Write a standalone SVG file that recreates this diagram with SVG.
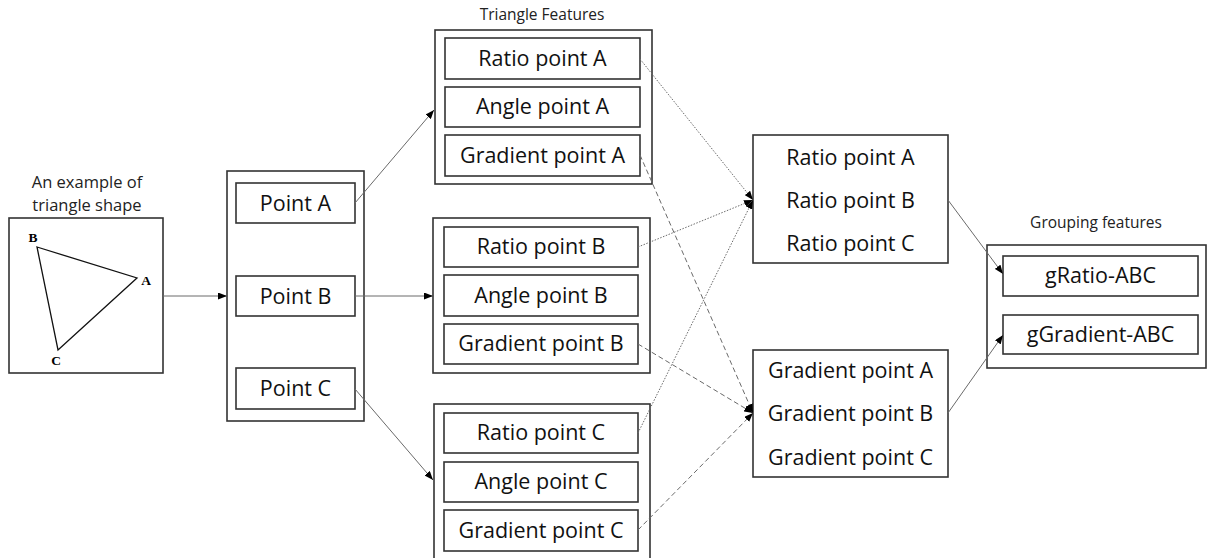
<svg xmlns="http://www.w3.org/2000/svg" width="1208" height="558" viewBox="0 0 1208 558">
<style>
.box{fill:#fff;stroke:#333;stroke-width:1.6}
.t{font-family:"Open Sans","Noto Sans",sans-serif;font-size:21.5px;fill:#111;text-anchor:middle}
.cap{font-family:"Open Sans","Noto Sans",sans-serif;font-size:15.5px;fill:#222;text-anchor:middle}
.lbl{font-family:"Liberation Serif",serif;font-size:13.5px;font-weight:bold;fill:#000;text-anchor:middle}
.c{fill:none;stroke:#6a6a6a;stroke-width:1}
.dot{stroke-dasharray:1.5,1.5}
.dash{stroke-dasharray:5,3}
</style>
<defs>
<marker id="ah" markerWidth="9" markerHeight="7" refX="9" refY="3.5" orient="auto" markerUnits="userSpaceOnUse">
<path d="M0,0 L9,3.5 L0,7 Z" fill="#000"/>
</marker>
</defs>

<g id="triangle-shape">
<text class="cap" x="87" y="188" style="font-size:16.5px">An example of</text>
<text class="cap" x="87" y="211" style="font-size:16.5px">triangle shape</text>
<rect class="box" x="9" y="218" width="154" height="155"/>
<polygon points="37,247 137,278 58,350" fill="none" stroke="#111" stroke-width="1.3"/>
<text class="lbl" x="33" y="242">B</text>
<text class="lbl" x="146" y="285">A</text>
<text class="lbl" x="56" y="365">C</text>
</g>

<g id="points">
<rect class="box" x="227" y="171" width="137" height="250"/>
<rect class="box" x="236" y="183" width="119" height="40"/>
<text class="t" x="295.5" y="211">Point A</text>
<rect class="box" x="236" y="276" width="119" height="40"/>
<text class="t" x="295.5" y="304">Point B</text>
<rect class="box" x="236" y="368" width="119" height="41"/>
<text class="t" x="295.5" y="396">Point C</text>
</g>

<g id="triangle-features-title">
<text class="cap" x="542" y="20">Triangle Features</text>
</g>

<g id="features-a">
<rect class="box" x="435" y="30" width="217" height="154"/>
<rect class="box" x="445" y="38" width="195" height="41"/>
<text class="t" x="542.5" y="66">Ratio point A</text>
<rect class="box" x="445" y="87" width="195" height="40"/>
<text class="t" x="542.5" y="114">Angle point A</text>
<rect class="box" x="445" y="135" width="195" height="41"/>
<text class="t" x="542.5" y="163">Gradient point A</text>
</g>

<g id="features-b">
<rect class="box" x="433" y="218" width="217" height="155"/>
<rect class="box" x="444" y="227" width="194" height="40"/>
<text class="t" x="541" y="254">Ratio point B</text>
<rect class="box" x="444" y="275" width="194" height="41"/>
<text class="t" x="541" y="303">Angle point B</text>
<rect class="box" x="444" y="324" width="194" height="40"/>
<text class="t" x="541" y="351">Gradient point B</text>
</g>

<g id="features-c">
<rect class="box" x="434" y="404" width="216" height="160"/>
<rect class="box" x="444" y="413" width="194" height="40"/>
<text class="t" x="541" y="440">Ratio point C</text>
<rect class="box" x="444" y="462" width="194" height="40"/>
<text class="t" x="541" y="489">Angle point C</text>
<rect class="box" x="444" y="510" width="194" height="41"/>
<text class="t" x="541" y="538">Gradient point C</text>
</g>

<g id="ratio-group">
<rect class="box" x="753" y="135" width="195" height="128"/>
<text class="t" x="850.5" y="165">Ratio point A</text>
<text class="t" x="850.5" y="208">Ratio point B</text>
<text class="t" x="850.5" y="251">Ratio point C</text>
</g>

<g id="gradient-group">
<rect class="box" x="753" y="350" width="195" height="127"/>
<text class="t" x="850.5" y="378">Gradient point A</text>
<text class="t" x="850.5" y="421">Gradient point B</text>
<text class="t" x="850.5" y="465">Gradient point C</text>
</g>

<g id="grouping-features">
<text class="cap" x="1096" y="228">Grouping features</text>
<rect class="box" x="987" y="245" width="219" height="123"/>
<rect class="box" x="1003" y="256" width="195" height="40"/>
<text class="t" x="1100.5" y="283">gRatio-ABC</text>
<rect class="box" x="1003" y="315" width="195" height="39"/>
<text class="t" x="1100.5" y="342">gGradient-ABC</text>
</g>

<g id="connectors">
<line class="c" x1="163" y1="296" x2="227" y2="296" marker-end="url(#ah)"/>
<line class="c" x1="355" y1="203" x2="434" y2="110" marker-end="url(#ah)"/>
<line class="c" x1="355" y1="296" x2="433" y2="296" marker-end="url(#ah)"/>
<line class="c" x1="355" y1="389" x2="433" y2="480" marker-end="url(#ah)"/>
<line class="c dot" x1="640" y1="59" x2="753" y2="200" marker-end="url(#ah)"/>
<line class="c dot" x1="638" y1="247" x2="753" y2="200" marker-end="url(#ah)"/>
<line class="c dot" x1="638" y1="433" x2="753" y2="200" marker-end="url(#ah)"/>
<line class="c dash" x1="640" y1="155" x2="753" y2="413" marker-end="url(#ah)"/>
<line class="c dash" x1="638" y1="344" x2="753" y2="413" marker-end="url(#ah)"/>
<line class="c dash" x1="638" y1="530" x2="753" y2="413" marker-end="url(#ah)"/>
<line class="c" x1="948" y1="200" x2="1003" y2="274" marker-end="url(#ah)"/>
<line class="c" x1="948" y1="413" x2="1003" y2="335" marker-end="url(#ah)"/>
</g>
</svg>
